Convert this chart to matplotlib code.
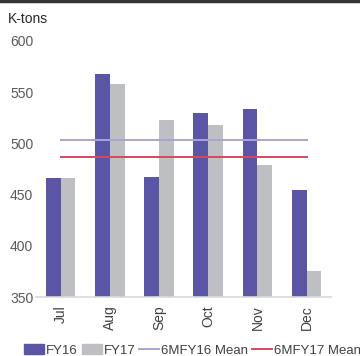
import numpy as np
import matplotlib.pyplot as plt
from matplotlib.lines import Line2D
from matplotlib.patches import Patch

plt.rcParams['font.family'] = ['Liberation Sans', 'DejaVu Sans']

months = ['Jul', 'Aug', 'Sep', 'Oct', 'Nov', 'Dec']
fy16 = [466, 568, 467, 530, 534, 455]
fy17 = [466, 558, 523, 518, 479, 376]
mean16 = 503
mean17 = 486.5

c16 = '#5b55a5'
c17 = '#bebfc3'
cm16 = '#a8a4d4'
cm17 = '#d8475c'

fig = plt.figure(figsize=(3.6, 3.56), dpi=100)
ax = fig.add_axes([0.1, 0.165, 0.82, 0.72])

x = np.arange(len(months))
w = 0.3
ax.bar(x - w / 2, fy16, w, color=c16)
ax.bar(x + w / 2, fy17, w, color=c17)
ax.plot([x[0], x[-1]], [mean16, mean16], color=cm16, lw=1.4)
ax.plot([x[0], x[-1]], [mean17, mean17], color=cm17, lw=1.4)

ax.set_xlim(-0.5, len(months) - 0.5)
ax.set_ylim(350, 600)
ax.set_yticks([350, 400, 450, 500, 550, 600])
ax.set_xticks(x)
ax.set_xticklabels(months, rotation=90, fontsize=10, color='#404040')
ax.tick_params(axis='y', labelsize=10, labelcolor='#595959', length=0, pad=2)
ax.tick_params(axis='x', length=0, pad=6)
for s in ['top', 'right', 'left']:
    ax.spines[s].set_visible(False)
ax.spines['bottom'].set_color('#d9d9d9')
ax.spines['bottom'].set_linewidth(1.2)

fig.text(0.022, 0.935, 'K-tons', fontsize=10, color='#262626')
fig.add_artist(Line2D([0, 1], [0.996, 0.996], color='#333333', lw=2.5))

handles = [
    Patch(color=c16, label='FY16'),
    Patch(color=c17, label='FY17'),
    Line2D([], [], color=cm16, lw=1.4, label='6MFY16 Mean'),
    Line2D([], [], color=cm17, lw=1.4, label='6MFY17 Mean'),
]
fig.legend(handles=handles, loc='lower left', bbox_to_anchor=(0.035, -0.035),
           ncol=4, frameon=False, fontsize=9.5, handlelength=1.5,
           handletextpad=0.15, columnspacing=0.3, labelcolor='#404040')

fig.savefig('out.png', dpi=100)
